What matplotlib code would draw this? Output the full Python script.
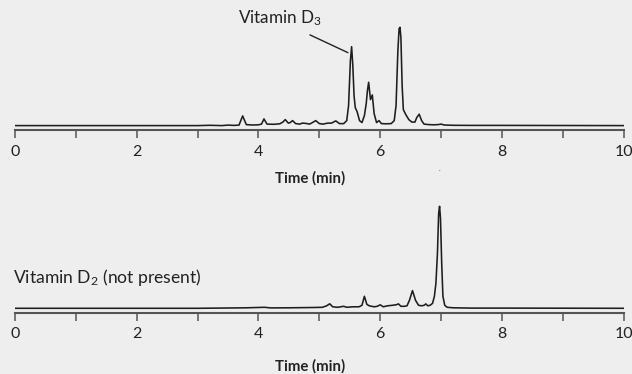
import matplotlib
matplotlib.use("Agg")
import matplotlib.pyplot as plt
from matplotlib.ticker import MultipleLocator

plt.rcParams['font.family'] = ['Lato', 'DejaVu Sans']
plt.rcParams['mathtext.fontset'] = 'custom'
plt.rcParams['mathtext.rm'] = 'Lato'
plt.rcParams['mathtext.default'] = 'regular'

# ---- data ----
top_time = [0.0, 3.0, 3.2, 3.4, 3.5, 3.6, 3.68, 3.74, 3.80, 3.9, 4.0, 4.05, 4.09, 4.14,
            4.25, 4.35, 4.40, 4.44, 4.49, 4.52, 4.56, 4.61, 4.68, 4.72, 4.78, 4.84, 4.90,
            4.94, 5.00, 5.06, 5.14, 5.20, 5.27, 5.33, 5.40, 5.45, 5.48, 5.51, 5.53, 5.55,
            5.57, 5.59, 5.62, 5.66, 5.70, 5.74, 5.77, 5.79, 5.81, 5.84, 5.87, 5.90, 5.94,
            5.98, 6.02, 6.10, 6.18, 6.23, 6.26, 6.29, 6.31, 6.325, 6.34, 6.36, 6.38, 6.42,
            6.47, 6.52, 6.57, 6.60, 6.64, 6.68, 6.72, 6.80, 6.88, 6.95, 7.00, 7.05, 7.20,
            7.50, 8.00, 10.0]
top_signal = [0.0, 0.0, 0.3, 0.0, 0.5, 0.2, 0.5, 9.7, 1.0, 0.6, 0.8, 1.5, 6.7, 1.5,
              1.3, 1.8, 3.5, 6.0, 2.5, 3.0, 5.0, 2.0, 1.5, 2.5, 2.2, 1.5, 3.5,
              5.0, 2.0, 1.5, 2.5, 2.5, 4.7, 2.0, 2.0, 5.0, 20.0, 65.0, 79.0, 60.0,
              30.0, 18.0, 14.0, 5.0, 3.0, 10.0, 22.0, 35.0, 43.4, 26.0, 30.7, 12.0, 3.0,
              5.0, 2.0, 1.8, 2.0, 5.0, 20.0, 75.0, 97.0, 98.4, 88.0, 40.0, 16.0, 11.0,
              6.0, 3.5, 3.5, 8.0, 11.4, 5.0, 1.5, 1.0, 0.8, 1.0, 1.5, 0.6, 0.3,
              0.2, 0.2, 0.0]

bot_time = [0.0, 3.0, 3.5, 3.8, 4.1, 4.2, 4.5, 4.9, 5.05, 5.12, 5.17, 5.22, 5.30, 5.40,
            5.45, 5.55, 5.65, 5.70, 5.74, 5.78, 5.82, 5.90, 5.95, 6.00, 6.05, 6.12, 6.20,
            6.26, 6.30, 6.34, 6.40, 6.44, 6.48, 6.53, 6.58, 6.63, 6.68, 6.72, 6.75, 6.78,
            6.82, 6.86, 6.89, 6.915, 6.94, 6.96, 6.975, 6.99, 7.01, 7.03, 7.06, 7.10,
            7.20, 7.50, 8.00, 10.0]
bot_signal = [0.0, 0.0, 0.3, 0.5, 1.0, 0.4, 0.5, 0.8, 1.0, 2.5, 4.5, 1.5, 1.0, 2.0,
              1.0, 1.5, 1.5, 3.0, 12.0, 4.0, 2.5, 1.5, 2.0, 3.5, 1.5, 2.5, 3.0,
              3.5, 4.4, 2.0, 2.0, 2.5, 8.0, 17.7, 8.0, 3.0, 2.5, 3.0, 4.4, 2.5,
              3.0, 5.0, 12.0, 25.0, 55.0, 95.0, 102.0, 90.0, 45.0, 12.0, 3.0, 1.0,
              0.5, 0.2, 0.2, 0.0]

x_major = [0, 2, 4, 6, 8, 10]
d3_label = "Vitamin D$_3$"
d2_label = "Vitamin D$_2$ (not present)"
x_title = "Time (min)"

# ---- figure ----
W, H = 632, 374
bg = '#eeeeee'
fig = plt.figure(figsize=(W / 100, H / 100), dpi=100, facecolor=bg)

def px_axes(x0, x1, y_axis, y_top):
    return fig.add_axes([x0 / W, (H - y_axis) / H, (x1 - x0) / W, (y_axis - y_top) / H])

ax1 = px_axes(15, 623.7, 130, 15.7)
ax2 = px_axes(15, 623.7, 312.7, 198.3)

line_c = '#1e1e1e'
spine_c = '#555555'
for ax, t, s in ((ax1, top_time, top_signal), (ax2, bot_time, bot_signal)):
    ax.set_facecolor(bg)
    ax.plot(t, s, color=line_c, lw=1.15, solid_joinstyle='round')
    ax.set_xlim(0, 10)
    ax.set_ylim(-4.4, 110)
    for side in ('top', 'right', 'left'):
        ax.spines[side].set_visible(False)
    ax.spines['bottom'].set_color(spine_c)
    ax.spines['bottom'].set_linewidth(1.5)
    ax.set_yticks([])
    ax.xaxis.set_minor_locator(MultipleLocator(1))
    ax.set_xticks(x_major)
    ax.set_xticklabels([str(v) for v in x_major])
    ax.tick_params(axis='x', which='both', direction='out', length=5.5, width=1.1,
                   color=spine_c, labelsize=11.5, labelcolor='#222222', pad=5)

# annotations
pk = top_signal.index(max(top_signal[:45]))
pt, ph = top_time[pk], top_signal[pk]
ax1.annotate(d3_label, xy=(pt - 0.06, ph - 6), xytext=(3.66, 102.4),
             textcoords='data', fontsize=12.3, color='#222222', va='baseline', ha='left',
             arrowprops=dict(arrowstyle='-', color='#222222', lw=1.0,
                             shrinkA=0, shrinkB=0,
                             relpos=(0.86, -0.35)))
ax2.text(-0.03, 25, d2_label, fontsize=12.6, color='#222222', va='baseline', ha='left',
         clip_on=False)

fig.text(310 / W, 1 - 178 / H, x_title, fontsize=10.8, fontweight='bold',
         color='#222222', ha='center', va='center')
fig.text(310 / W, 1 - 366 / H, x_title, fontsize=10.8, fontweight='bold',
         color='#222222', ha='center', va='center')

# small stray dot present in the reference image
fig.text(439 / W, 1 - 172 / H, '.', fontsize=5, color='#444444', ha='center', va='bottom')

fig.savefig('out.png', dpi=100, facecolor=bg)
